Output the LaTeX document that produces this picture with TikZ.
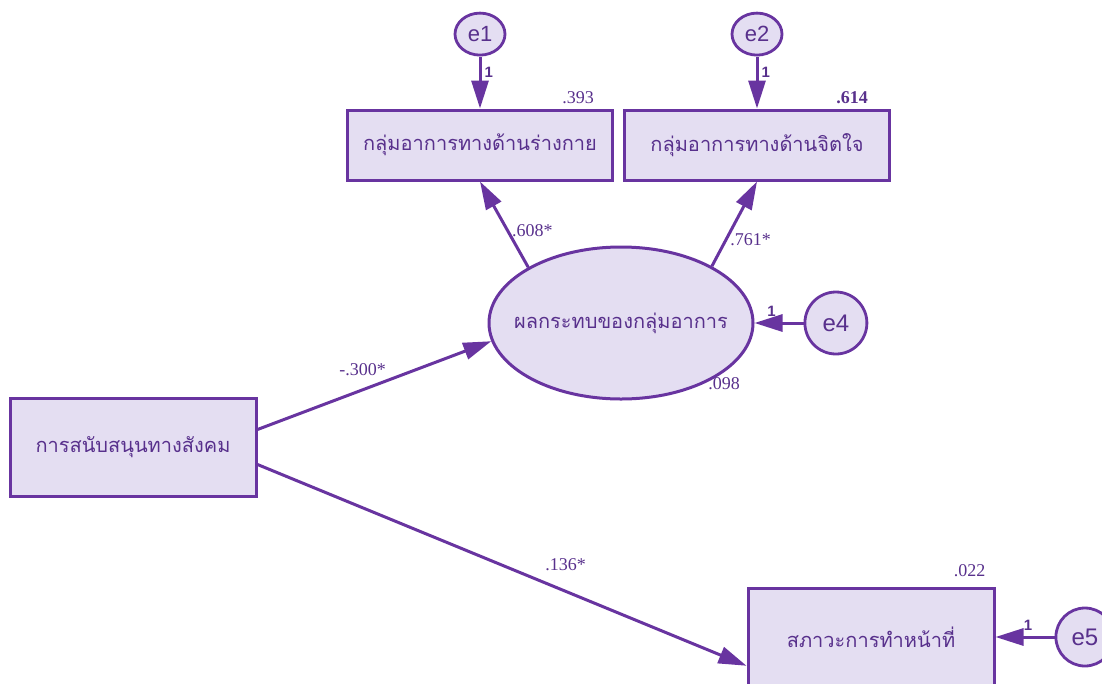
\documentclass[tikz,border=0pt]{standalone}
\usepackage{fontspec}
\setmainfont{Liberation Serif}
\newfontfamily\thaifont[Script=Thai]{Loma}
\newfontfamily\lblfont{Liberation Sans}
\usetikzlibrary{positioning}
\usetikzlibrary{arrows.meta}
\usetikzlibrary{shapes.geometric}

\definecolor{amosline}{RGB}{104,52,160}
\definecolor{amosfill}{RGB}{228,222,242}
\definecolor{amostext}{RGB}{88,48,140}

\tikzset{
  obsvar/.style={draw=amosline, line width=3pt, fill=amosfill, text=amostext,
    minimum width=265pt, minimum height=70pt, inner sep=0pt,
    font=\thaifont\fontsize{20}{24}\selectfont},
  latvar/.style={obsvar, ellipse, minimum width=264pt, minimum height=152pt},
  errvar/.style={ellipse, draw=amosline, line width=2.8pt, fill=amosfill, text=amostext,
    minimum width=50pt, minimum height=42pt, inner sep=0pt,
    font=\lblfont\fontsize{22}{24}\selectfont},
  regline/.style={draw=amosline, line width=3pt, -{Triangle[length=28pt,width=17pt]}},
  coef/.style={text=amostext, inner sep=1pt, font=\fontsize{18}{21}\selectfont},
  fixone/.style={text=amostext, inner sep=1pt, font=\lblfont\bfseries\fontsize{15}{17}\selectfont}
}

\begin{document}
\begin{tikzpicture}[x=1pt, y=-1pt]
\useasboundingbox (0,0) rectangle (1102,683);

\node[obsvar] (phys) at (480,145) {กลุ่มอาการทางด้านร่างกาย};
\node[obsvar] (psych) at (757,145) {กลุ่มอาการทางด้านจิตใจ};
\node[latvar] (impact) at (621,323) {\makebox[0pt]{ผลกระทบของกลุ่มอาการ}};
\node[obsvar, minimum width=246pt, minimum height=98pt] (social) at (133,447) {การสนับสนุนทางสังคม};
\node[obsvar, minimum width=246pt, minimum height=98pt] (func) at (871,637) {สภาวะการทำหน้าที่};

\node[errvar, above=52pt of phys] (e1) {e1};
\node[errvar, above=52pt of psych] (e2) {e2};
\node[errvar, minimum size=62pt, font=\lblfont\fontsize{24}{26}\selectfont, right=49pt of impact] (e4) {e4};
\node[errvar, minimum size=58pt, font=\lblfont\fontsize{24}{26}\selectfont, right=59pt of func] (e5) {e5};

\node[coef, above left=4pt and 19pt of phys.north east] (r2phys) {.393};
\node[coef, font=\bfseries\fontsize{18}{21}\selectfont, above left=4pt and 22pt of psych.north east] (r2psych) {.614};
\node[coef] (r2impact) at (724,384) {.098};
\node[coef, above left=9pt and 9pt of func.north east] (r2func) {.022};

\draw[regline] (e1) -- node[fixone, right=2pt, pos=0.3] {1} (phys);
\draw[regline] (e2) -- node[fixone, right=2pt, pos=0.3] {1} (psych);
\draw[regline] (impact.149) -- node[coef, right=2pt, pos=0.43] {.608*} (phys.south);
\draw[regline] (impact.32) -- node[coef, right=2pt, pos=0.31] {.761*} (psych.south);
\draw[regline] (e4) -- node[fixone, above=4pt, pos=0.65] {1} (impact);
\draw[regline] (social.8) -- node[coef, above=12pt, pos=0.45] {-.300*} (impact.188);
\draw[regline] (social.-8) -- node[coef, above=18pt, pos=0.63] {.136*} (func.193);
\draw[regline] (e5) -- node[fixone, above=4pt, pos=0.45] {1} (func);
\end{tikzpicture}
\end{document}
